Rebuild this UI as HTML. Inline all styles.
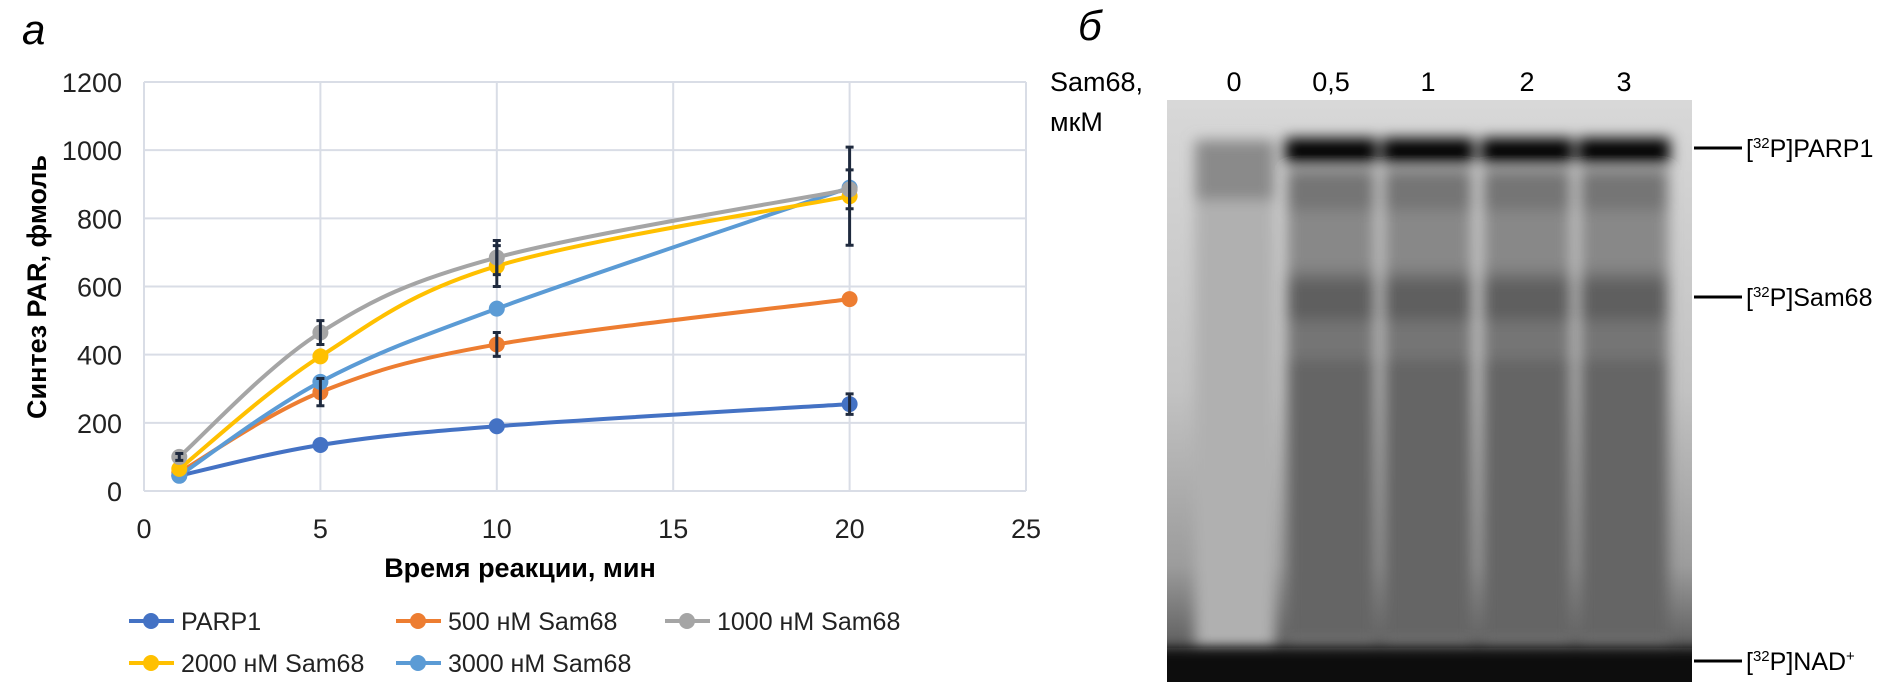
<!DOCTYPE html>
<html><head><meta charset="utf-8"><style>
body{margin:0;background:#fff;width:1902px;height:689px;overflow:hidden}
svg{display:block}
text{font-family:"Liberation Sans",sans-serif}
</style></head><body>
<svg id="fig" width="1902" height="689" viewBox="0 0 1902 689" xmlns="http://www.w3.org/2000/svg">
<defs>
<filter id="blur" x="-20%" y="-20%" width="140%" height="140%"><feGaussianBlur stdDeviation="7"/></filter>
<filter id="blur2" x="-20%" y="-50%" width="140%" height="200%"><feGaussianBlur stdDeviation="6"/></filter>
<clipPath id="gelclip"><rect x="1167" y="100" width="525" height="582"/></clipPath>
<linearGradient id="bg" x1="0" y1="0" x2="0" y2="1">
<stop offset="0" stop-color="#d8d8d8"/><stop offset="0.5" stop-color="#c2c2c2"/><stop offset="0.8" stop-color="#9c9c9c"/><stop offset="1" stop-color="#444"/></linearGradient>
</defs>
<text x="22" y="44" font-family="Liberation Serif,serif" font-style="italic" font-size="42">а</text>
<g id="chart"></g>
<text x="1078" y="40" font-family="Liberation Serif,serif" font-style="italic" font-size="42">б</text>
<g id="gel" clip-path="url(#gelclip)">
<rect x="1167" y="100" width="525" height="582" fill="url(#bg)"/>
<g filter="url(#blur)">
<rect x="1195" y="140" width="80" height="60" fill="#8a8a8a"/>
<rect x="1195" y="200" width="80" height="450" fill="#b0b0b0"/>
</g>
<g id="lanes" filter="url(#blur)"></g>
<g filter="url(#blur2)">
<rect x="1140" y="648" width="580" height="50" fill="#0a0a0a"/>
</g>
</g>
<g font-size="27">
<text x="1050" y="91">Sam68,</text>
<text x="1050" y="131">мкМ</text>
<text x="1234" y="91" text-anchor="middle">0</text>
<text x="1331" y="91" text-anchor="middle">0,5</text>
<text x="1428" y="91" text-anchor="middle">1</text>
<text x="1527" y="91" text-anchor="middle">2</text>
<text x="1624" y="91" text-anchor="middle">3</text>
</g>
<g font-size="25">
<line x1="1694" y1="148" x2="1742" y2="148" stroke="#000" stroke-width="3"/>
<text x="1746" y="157">[<tspan font-size="15" dy="-9">32</tspan><tspan dy="9">P]PARP1</tspan></text>
<line x1="1694" y1="297" x2="1742" y2="297" stroke="#000" stroke-width="3"/>
<text x="1746" y="306">[<tspan font-size="15" dy="-9">32</tspan><tspan dy="9">P]Sam68</tspan></text>
<line x1="1694" y1="661" x2="1742" y2="661" stroke="#000" stroke-width="3"/>
<text x="1746" y="670">[<tspan font-size="15" dy="-9">32</tspan><tspan dy="9">P]NAD</tspan><tspan font-size="15" dy="-9">+</tspan></text>
</g>
</svg>
<script>
const xValues=[1,5,10,20];
const parp1=[45,135,190,255];
const sam500=[55,290,430,563];
const sam1000=[100,465,685,885];
const sam2000=[65,395,660,865];
const sam3000=[45,320,535,890];
const xTicks=[0,5,10,15,20,25];
const yTicks=[0,200,400,600,800,1000,1200];
const seriesNames=["PARP1","500 нМ Sam68","1000 нМ Sam68","2000 нМ Sam68","3000 нМ Sam68"];
const seriesColors=["#4472c4","#ed7d31","#a5a5a5","#ffc000","#5b9bd5"];
const errIdx=[[3,30,0],[1,40,1],[2,35,1],[0,10,2],[1,35,2],[2,50,2],[3,57,2],[2,60,3],[3,144,3]];
const NS="http://www.w3.org/2000/svg";
const X0=144,X1=1026,Y0=491,Y1=82;
const sx=v=>X0+(v-0)/25*(X1-X0);
const sy=v=>Y0-(v-0)/1200*(Y0-Y1);
const chart=document.getElementById('chart');
function mk(tag,attrs,parent){const e=document.createElementNS(NS,tag);for(const k in attrs)e.setAttribute(k,attrs[k]);(parent||chart).appendChild(e);return e;}
yTicks.forEach(t=>{
  const l=mk('line',{x1:X0,x2:X1,y1:sy(t),y2:sy(t),stroke:'#d9dde6','stroke-width':2});
  
  
  const tx=mk('text',{x:122,y:sy(t)+10,'text-anchor':'end','font-size':27,fill:'#222'});
  tx.textContent=t;
  
  
});
xTicks.forEach(t=>{
  const l=mk('line',{x1:sx(t),x2:sx(t),y1:Y1,y2:Y0,stroke:'#d9dde6','stroke-width':2});
  
  
  const tx=mk('text',{x:sx(t),y:538,'text-anchor':'middle','font-size':27,fill:'#222'});
  tx.textContent=t;
  
  
});
const yt=mk('text',{x:0,y:0,transform:'translate(46,287) rotate(-90)','text-anchor':'middle','font-size':27,'font-weight':'bold'});
yt.textContent='Синтез PAR, фмоль';


const xt=mk('text',{x:520,y:577,'text-anchor':'middle','font-size':27,'font-weight':'bold'});
xt.textContent='Время реакции, мин';


const allSeries=[parp1,sam500,sam1000,sam2000,sam3000];
function smooth(pts){let d=`M${pts[0][0]},${pts[0][1]}`;for(let i=0;i<pts.length-1;i++){const p0=pts[i-1]||pts[i],p1=pts[i],p2=pts[i+1],p3=pts[i+2]||p2;const c1=[p1[0]+(p2[0]-p0[0])/6,p1[1]+(p2[1]-p0[1])/6],c2=[p2[0]-(p3[0]-p1[0])/6,p2[1]-(p3[1]-p1[1])/6];d+=` C${c1[0]},${c1[1]} ${c2[0]},${c2[1]} ${p2[0]},${p2[1]}`;}return d;}
const order=[0,1,4,3,2];
order.forEach(si=>{
  const pts=xValues.map((x,i)=>[sx(x),sy(allSeries[si][i])]);
  const p=mk('path',{d:smooth(pts),fill:'none',stroke:seriesColors[si],'stroke-width':4});
  
  
  pts.forEach(pt=>{
    const c=mk('circle',{cx:pt[0],cy:pt[1],r:8,fill:seriesColors[si]});
    
    
  });
});
errIdx.forEach(e=>{
  const x=sx(xValues[e[0]]),v=allSeries[e[2]][e[0]],a=sy(v+e[1]),b=sy(v-e[1]);
  const g=mk('path',{d:`M${x},${a}V${b}M${x-4},${a}H${x+4}M${x-4},${b}H${x+4}`,stroke:'#1f2a3e','stroke-width':3,fill:'none'});
  
  
});
const legPos=[[129,621],[396,621],[665,621],[129,663],[396,663]];
legPos.forEach((p,i)=>{
  const l=mk('line',{x1:p[0],x2:p[0]+45,y1:p[1],y2:p[1],stroke:seriesColors[i],'stroke-width':4});
  
  
  const c=mk('circle',{cx:p[0]+22,cy:p[1],r:8,fill:seriesColors[i]});
  
  
  const t=mk('text',{x:p[0]+52,y:p[1]+9,'font-size':25,fill:'#222'});
  t.textContent=seriesNames[i];
  
  
});
const lanes=document.getElementById('lanes');
[1331,1428,1527,1624].forEach(cx=>{
  const g=document.createElementNS(NS,'g');
  
  
  lanes.appendChild(g);
  mk('rect',{x:cx-44,y:170,width:88,height:480,fill:'#747474'},g);
  mk('rect',{x:cx-44,y:210,width:88,height:60,fill:'#888'},g);
  mk('rect',{x:cx-44,y:280,width:88,height:40,fill:'#5e5e5e'},g);
  mk('rect',{x:cx-44,y:360,width:88,height:280,fill:'#656565'},g);
  mk('rect',{x:cx-46,y:138,width:92,height:26,fill:'#050505'},g);
});
</script>
</body></html>
